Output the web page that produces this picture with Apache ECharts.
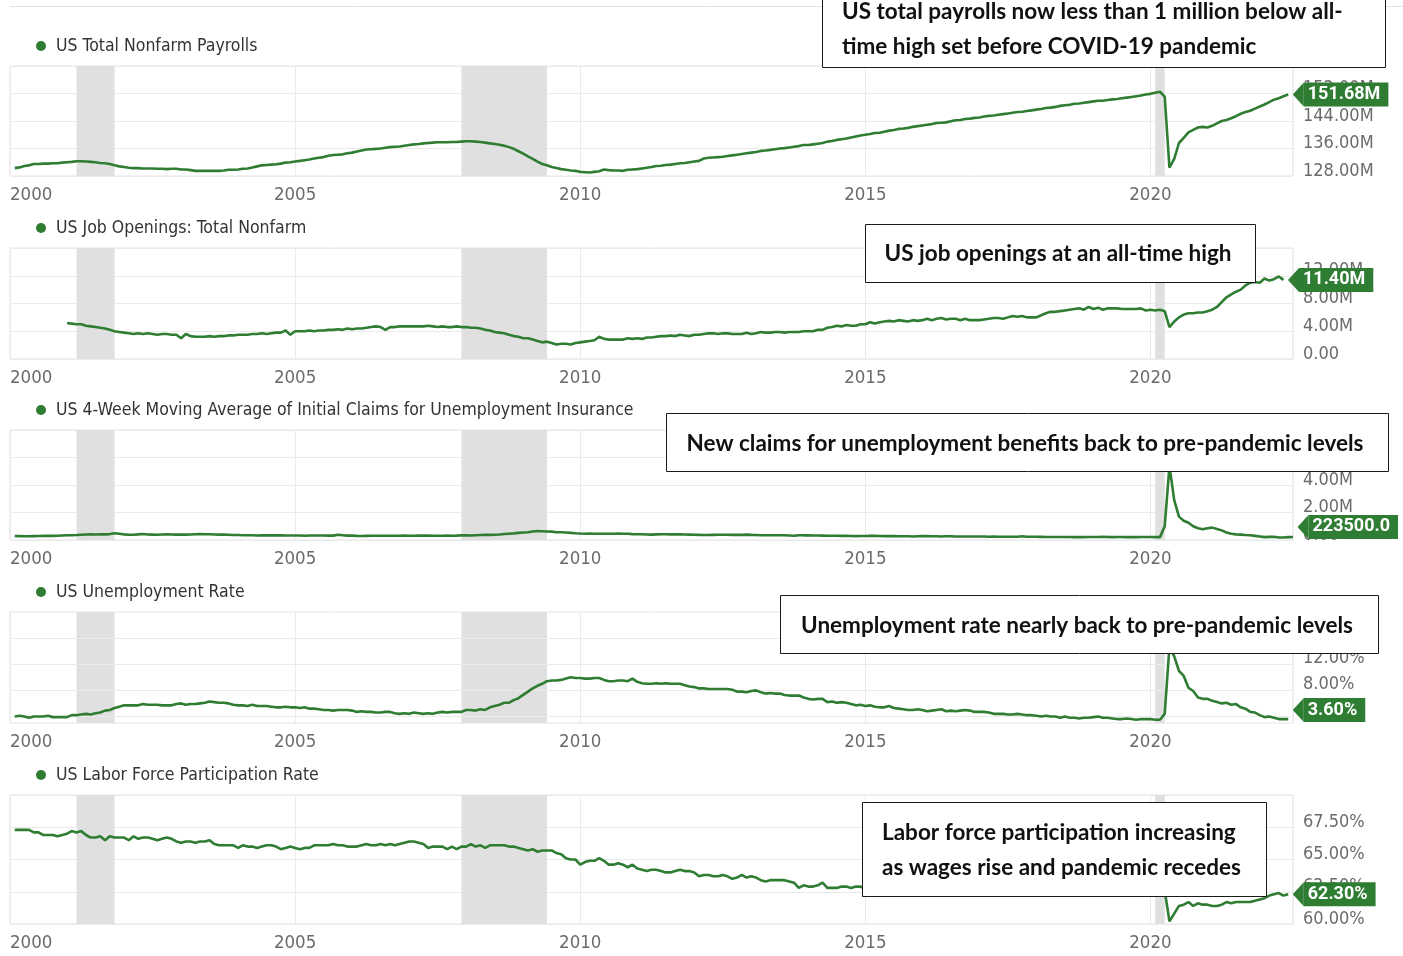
<!DOCTYPE html>
<html>
<head>
<meta charset="utf-8">
<title>US labor market</title>
<script src="https://cdn.jsdelivr.net/npm/echarts@6.0.0/dist/echarts.min.js"></script>
<style>
  html, body { margin: 0; padding: 0; background: #fff; }
  #main { width: 1403px; height: 956px; }
</style>
</head>
<body>
<div id="main"></div>
<script>
// monthly values, one row per year (2000 ->)
var payrolls = [ // millions, Jan 2000 - May 2022
  [130.3,130.5,130.9,131.1,131.5,131.5,131.6,131.6,131.7,131.7,131.9,132.0],
  [132.1,132.3,132.3,132.2,132.1,132.0,131.8,131.7,131.5,131.1,130.8,130.6],
  [130.4,130.3,130.3,130.2,130.2,130.2,130.1,130.1,130.0,130.1,130.1,129.9],
  [129.9,129.7,129.5,129.5,129.5,129.5,129.5,129.5,129.6,129.8,129.8,129.9],
  [130.1,130.2,130.5,130.8,131.1,131.2,131.3,131.4,131.6,131.9,132.0,132.2],
  [132.4,132.6,132.8,133.1,133.3,133.5,133.9,134.1,134.2,134.3,134.6,134.8],
  [135.1,135.4,135.7,135.8,135.9,136.0,136.2,136.4,136.5,136.6,136.8,137.0],
  [137.2,137.3,137.5,137.6,137.7,137.8,137.8,137.8,137.9,137.9,138.0,138.1],
  [138.1,138.0,137.9,137.7,137.5,137.3,137.1,136.8,136.4,135.9,135.2,134.5],
  [133.7,133.0,132.2,131.5,131.1,130.6,130.3,130.0,129.8,129.6,129.5,129.2],
  [129.1,129.0,129.2,129.4,129.9,129.7,129.6,129.6,129.5,129.8,129.9,130.0],
  [130.2,130.4,130.6,130.9,131.0,131.2,131.3,131.5,131.7,131.8,132.0,132.2],
  [132.4,133.1,133.3,133.4,133.5,133.6,133.8,134.0,134.2,134.4,134.6,134.8],
  [135.0,135.3,135.4,135.6,135.8,136.0,136.1,136.3,136.5,136.7,137.0,137.0],
  [137.2,137.4,137.6,138.0,138.2,138.5,138.7,138.9,139.2,139.5,139.8,140.0],
  [140.2,140.5,140.6,140.9,141.2,141.4,141.7,141.8,142.0,142.3,142.5,142.7],
  [142.9,143.1,143.4,143.5,143.6,143.9,144.2,144.3,144.6,144.7,144.9,145.0],
  [145.3,145.5,145.6,145.8,146.0,146.2,146.4,146.6,146.7,146.9,147.1,147.3],
  [147.5,147.8,147.9,148.1,148.4,148.6,148.7,149.0,149.1,149.3,149.5,149.7],
  [149.9,149.9,150.1,150.3,150.4,150.6,150.8,151.0,151.2,151.4,151.7,151.9],
  [152.2,152.5,151.1,130.4,133.0,137.6,139.1,140.7,141.4,142.1,142.3,142.1],
  [142.6,143.3,144.0,144.3,144.8,145.4,146.1,146.6,147.0,147.6,148.2,148.8],
  [149.5,150.2,150.6,151.2,151.68]
];
var jobOpenings = [ // millions, Dec 2000 - Apr 2022
  [5.2],
  [5.1,5.0,5.0,4.8,4.7,4.6,4.5,4.4,4.2,4.0,3.9,3.8],
  [3.7,3.6,3.7,3.6,3.7,3.6,3.5,3.6,3.6,3.5,3.5,3.0],
  [3.6,3.3,3.2,3.2,3.2,3.3,3.2,3.3,3.3,3.4,3.4,3.5],
  [3.5,3.5,3.6,3.6,3.7,3.6,3.7,3.8,3.8,4.1,3.5,4.0],
  [4.0,4.0,4.1,4.0,4.1,4.1,4.2,4.2,4.3,4.2,4.4,4.3],
  [4.4,4.4,4.5,4.6,4.7,4.6,4.2,4.6,4.6,4.7,4.7,4.7],
  [4.7,4.7,4.7,4.8,4.7,4.6,4.7,4.6,4.6,4.7,4.6,4.6],
  [4.5,4.5,4.4,4.2,4.1,3.9,3.8,3.7,3.5,3.3,3.2,3.0],
  [3.0,2.8,2.6,2.4,2.5,2.3,2.1,2.2,2.2,2.1,2.3,2.4],
  [2.5,2.6,2.7,3.2,2.9,2.8,2.8,2.8,2.8,3.0,2.9,3.0],
  [2.9,3.1,3.1,3.2,3.3,3.3,3.4,3.3,3.5,3.4,3.3,3.5],
  [3.5,3.6,3.7,3.7,3.6,3.7,3.7,3.6,3.6,3.6,3.8,3.6],
  [3.7,3.9,3.8,3.8,3.9,3.9,3.8,3.9,3.9,3.9,4.0,4.0],
  [4.0,4.2,4.2,4.5,4.6,4.8,4.7,4.9,4.8,4.8,5.0,5.0],
  [5.3,5.1,5.3,5.4,5.5,5.4,5.6,5.5,5.4,5.6,5.5,5.6],
  [5.8,5.6,5.8,5.9,5.7,5.8,5.8,5.6,5.8,5.6,5.6,5.6],
  [5.7,5.8,5.9,5.9,5.8,6.0,6.2,6.1,6.2,6.0,6.0,6.0],
  [6.3,6.6,6.8,6.8,6.9,7.0,7.1,7.2,7.3,7.1,7.5,7.2],
  [7.4,7.1,7.3,7.3,7.3,7.2,7.2,7.2,7.2,7.3,7.0,7.1],
  [7.0,7.1,6.9,4.6,5.4,6.0,6.4,6.6,6.6,6.7,6.7,6.9],
  [7.1,7.5,8.2,8.9,9.3,9.7,10.0,10.6,11.0,11.1,11.0,11.6],
  [11.3,11.5,11.9,11.4]
];
var claims4wk = [ // millions, Jan 2000 - Jun 2022
  [0.29,0.28,0.27,0.27,0.28,0.29,0.30,0.30,0.30,0.31,0.33,0.34],
  [0.35,0.36,0.38,0.40,0.41,0.40,0.41,0.41,0.43,0.49,0.45,0.41],
  [0.38,0.38,0.41,0.44,0.40,0.39,0.38,0.40,0.41,0.40,0.39,0.39],
  [0.39,0.40,0.42,0.43,0.42,0.42,0.40,0.39,0.39,0.38,0.36,0.36],
  [0.35,0.35,0.34,0.33,0.34,0.34,0.34,0.34,0.34,0.33,0.33,0.33],
  [0.33,0.31,0.33,0.33,0.33,0.33,0.32,0.32,0.38,0.35,0.32,0.32],
  [0.30,0.29,0.30,0.31,0.31,0.31,0.31,0.31,0.31,0.31,0.32,0.31],
  [0.31,0.33,0.32,0.32,0.31,0.31,0.31,0.32,0.31,0.32,0.34,0.34],
  [0.33,0.35,0.36,0.37,0.37,0.38,0.40,0.44,0.46,0.48,0.52,0.55],
  [0.56,0.62,0.65,0.64,0.62,0.61,0.56,0.56,0.54,0.52,0.49,0.47],
  [0.46,0.47,0.45,0.46,0.46,0.46,0.46,0.47,0.45,0.45,0.43,0.42],
  [0.42,0.40,0.39,0.41,0.42,0.42,0.41,0.41,0.41,0.40,0.39,0.38],
  [0.37,0.36,0.36,0.37,0.38,0.38,0.38,0.37,0.37,0.37,0.39,0.37],
  [0.36,0.35,0.35,0.34,0.35,0.35,0.34,0.33,0.31,0.35,0.34,0.34],
  [0.33,0.33,0.32,0.31,0.31,0.31,0.30,0.30,0.29,0.28,0.29,0.29],
  [0.30,0.30,0.29,0.28,0.28,0.28,0.27,0.27,0.27,0.26,0.27,0.28],
  [0.28,0.27,0.27,0.26,0.27,0.27,0.26,0.26,0.25,0.26,0.25,0.26],
  [0.25,0.24,0.25,0.24,0.24,0.24,0.24,0.24,0.27,0.24,0.24,0.24],
  [0.23,0.22,0.22,0.22,0.22,0.22,0.22,0.21,0.21,0.21,0.22,0.22],
  [0.22,0.23,0.22,0.21,0.22,0.22,0.21,0.21,0.21,0.22,0.22,0.22],
  [0.21,0.21,0.99,5.38,2.90,1.70,1.40,1.25,1.00,0.85,0.78,0.85],
  [0.90,0.80,0.70,0.55,0.45,0.41,0.39,0.36,0.34,0.30,0.26,0.21],
  [0.23,0.23,0.18,0.18,0.21,0.2235]
];
var unemployment = [ // percent, Jan 2000 - May 2022
  [4.0,4.1,4.0,3.8,4.0,4.0,4.0,4.1,3.9,3.9,3.9,3.9],
  [4.2,4.2,4.3,4.4,4.3,4.5,4.6,4.9,5.0,5.3,5.5,5.7],
  [5.7,5.7,5.7,5.9,5.8,5.8,5.8,5.7,5.7,5.7,5.9,6.0],
  [5.8,5.9,5.9,6.0,6.1,6.3,6.2,6.1,6.1,6.0,5.8,5.7],
  [5.7,5.6,5.8,5.6,5.6,5.6,5.5,5.4,5.4,5.5,5.4,5.4],
  [5.3,5.4,5.2,5.2,5.1,5.0,5.0,4.9,5.0,5.0,5.0,4.9],
  [4.7,4.8,4.7,4.7,4.6,4.6,4.7,4.7,4.5,4.4,4.5,4.4],
  [4.6,4.5,4.4,4.5,4.4,4.6,4.7,4.6,4.7,4.7,4.7,5.0],
  [5.0,4.9,5.1,5.0,5.4,5.6,5.8,6.1,6.1,6.5,6.8,7.3],
  [7.8,8.3,8.7,9.0,9.4,9.5,9.5,9.6,9.8,10.0,9.9,9.9],
  [9.8,9.8,9.9,9.9,9.6,9.4,9.4,9.5,9.5,9.4,9.8,9.3],
  [9.1,9.0,9.0,9.1,9.0,9.1,9.0,9.0,9.0,8.8,8.6,8.5],
  [8.3,8.3,8.2,8.2,8.2,8.2,8.2,8.1,7.8,7.8,7.7,7.9],
  [8.0,7.7,7.5,7.6,7.5,7.5,7.3,7.2,7.2,7.2,6.9,6.7],
  [6.6,6.7,6.7,6.2,6.3,6.1,6.2,6.1,5.9,5.7,5.8,5.6],
  [5.7,5.5,5.4,5.4,5.6,5.3,5.2,5.1,5.0,5.0,5.1,5.0],
  [4.8,4.9,5.0,5.1,4.8,4.9,4.8,4.9,5.0,4.9,4.7,4.7],
  [4.7,4.6,4.4,4.4,4.4,4.3,4.3,4.4,4.3,4.2,4.2,4.1],
  [4.0,4.1,4.0,4.0,3.8,4.0,3.8,3.8,3.7,3.8,3.8,3.9],
  [4.0,3.8,3.8,3.7,3.6,3.6,3.7,3.6,3.5,3.6,3.6,3.6],
  [3.5,3.5,4.4,14.7,13.2,11.0,10.2,8.4,7.9,6.9,6.7,6.7],
  [6.4,6.2,6.0,6.1,5.8,5.9,5.4,5.2,4.7,4.6,4.2,3.9],
  [4.0,3.8,3.6,3.6,3.6]
];
var participation = [ // percent, Jan 2000 - May 2022
  [67.3,67.3,67.3,67.3,67.1,67.1,66.9,66.9,66.9,66.8,66.9,67.0],
  [67.2,67.1,67.2,66.9,66.7,66.7,66.8,66.5,66.8,66.7,66.7,66.7],
  [66.5,66.8,66.6,66.7,66.7,66.6,66.5,66.6,66.7,66.6,66.4,66.3],
  [66.4,66.4,66.3,66.4,66.4,66.5,66.2,66.1,66.1,66.1,66.1,65.9],
  [66.1,66.0,66.0,65.9,66.0,66.1,66.1,66.0,65.8,65.9,66.0,65.9],
  [65.8,65.9,65.9,66.1,66.1,66.1,66.1,66.2,66.1,66.1,66.0,66.0],
  [66.0,66.1,66.2,66.1,66.1,66.2,66.1,66.2,66.1,66.2,66.3,66.4],
  [66.4,66.3,66.2,65.9,66.0,66.0,66.0,65.8,66.0,65.8,66.0,66.0],
  [66.2,66.0,66.1,65.9,66.1,66.1,66.1,66.1,66.0,66.0,65.9,65.8],
  [65.7,65.8,65.6,65.7,65.7,65.7,65.5,65.4,65.1,65.0,65.0,64.6],
  [64.8,64.9,64.9,65.1,64.9,64.6,64.6,64.7,64.6,64.4,64.6,64.3],
  [64.2,64.1,64.2,64.2,64.1,64.0,64.0,64.1,64.2,64.1,64.1,64.0],
  [63.7,63.8,63.8,63.7,63.7,63.8,63.7,63.5,63.6,63.8,63.6,63.7],
  [63.6,63.4,63.3,63.4,63.4,63.4,63.4,63.3,63.2,62.8,63.0,62.9],
  [62.9,63.0,63.2,62.8,62.8,62.8,62.9,62.9,62.8,62.9,62.9,62.7],
  [62.9,62.7,62.7,62.7,62.8,62.6,62.6,62.6,62.4,62.5,62.5,62.7],
  [62.7,62.8,63.0,62.8,62.7,62.8,62.8,62.8,62.9,62.8,62.7,62.7],
  [62.9,62.9,63.0,62.9,62.8,62.8,62.9,62.8,63.1,62.7,62.8,62.7],
  [62.8,63.1,63.0,62.9,62.9,63.0,62.9,62.7,62.8,62.9,62.9,63.0],
  [63.1,63.1,63.0,62.9,62.9,63.0,63.0,63.1,63.1,63.2,63.2,63.3],
  [63.4,63.3,62.6,60.2,60.8,61.4,61.5,61.7,61.4,61.6,61.5,61.5],
  [61.4,61.4,61.5,61.7,61.6,61.7,61.7,61.7,61.7,61.8,61.9,62.0],
  [62.2,62.3,62.4,62.2,62.3]
];

var seriesNames = [
  'US Total Nonfarm Payrolls',
  'US Job Openings: Total Nonfarm',
  'US 4-Week Moving Average of Initial Claims for Unemployment Insurance',
  'US Unemployment Rate',
  'US Labor Force Participation Rate'
];
// recessions (decimal years)
var recessions = [[2001.167, 2001.833], [2007.917, 2009.417], [2020.083, 2020.25]];
var unempTicks = [4, 8, 12, 16];

var notes = [
  { x: 822, y: -6, w: 563, h: 73, lines: ['US total payrolls now less than 1 million below all-', 'time high set before COVID-19 pandemic'], tx: 842, ty: 12, center: false },
  { x: 865, y: 224, w: 390, h: 58, lines: ['US job openings at an all-time high'], tx: 1058, ty: 254, center: true },
  { x: 666, y: 413, w: 722, h: 58, lines: ['New claims for unemployment benefits back to pre-pandemic levels'], tx: 1025, ty: 444, center: true },
  { x: 780, y: 595, w: 598, h: 58, lines: ['Unemployment rate nearly back to pre-pandemic levels'], tx: 1077, ty: 626, center: true },
  { x: 862, y: 802, w: 404, h: 94, lines: ['Labor force participation increasing', 'as wages rise and pandemic recedes'], tx: 882, ty: 833, center: false }
];

var GREEN = '#2e7d32';
var AXIS_FONT = '"Liberation Sans Narrow", "DejaVu Sans Condensed", Roboto, sans-serif';
var NOTE_FONT = 'Lato, "Open Sans", sans-serif';

// monthly values plotted at month end
function toPoints(rows, year, month) {
  var out = [];
  rows.forEach(function (row) {
    row.forEach(function (v) {
      out.push([year + month / 12, v]);
      month++;
      if (month > 12) { month = 1; year++; }
    });
  });
  return out;
}

var panels = [
  { data: toPoints(payrolls, 2000, 1), min: 128, max: 160, interval: 8,
    fmt: function (v) { return v.toFixed(2) + 'M'; }, tag: function (v) { return v.toFixed(2) + 'M'; }, dy: 0 },
  { data: toPoints(jobOpenings, 2000, 12), min: 0, max: 16, interval: 4,
    fmt: function (v) { return v === 0 ? '0.00' : v.toFixed(2) + 'M'; }, tag: function (v) { return v.toFixed(2) + 'M'; }, dy: 0 },
  { data: toPoints(claims4wk, 2000, 1), min: 0, max: 8, interval: 2,
    fmt: function (v) { return v === 0 ? '0.00' : v.toFixed(2) + 'M'; }, tag: function (v) { return (v * 1e6).toFixed(1); }, dy: -10 },
  { data: toPoints(unemployment, 2000, 1), min: 3, max: 20, interval: null,
    fmt: function (v) { return v.toFixed(2) + '%'; }, tag: function (v) { return v.toFixed(2) + '%'; }, dy: -9 },
  { data: toPoints(participation, 2000, 1), min: 60, max: 70, interval: 2.5,
    fmt: function (v) { return v.toFixed(2) + '%'; }, tag: function (v) { return v.toFixed(2) + '%'; }, dy: 0 }
];

var gridTops = [66, 248, 430, 612, 795];
var gridHeights = [110, 111, 110, 111, 129];
var legendTops = [32, 214, 396, 578, 761];

var grids = [], xAxes = [], yAxes = [], series = [], legends = [];

panels.forEach(function (p, i) {
  grids.push({
    left: 10, right: 110, top: gridTops[i], height: gridHeights[i],
    show: true, borderColor: '#e4e4e4', borderWidth: 1, backgroundColor: '#fff'
  });
  xAxes.push({
    type: 'value', gridIndex: i, min: 2000, max: 2022.5, interval: 5,
    axisLine: { show: false }, axisTick: { show: false },
    splitLine: { show: true, lineStyle: { color: '#ebebeb' } },
    axisLabel: {
      color: '#6b6b6b', fontSize: 18.5, fontFamily: AXIS_FONT, margin: 10,
      alignMinLabel: 'left', showMaxLabel: false,
      formatter: function (v) { return v % 5 === 0 ? String(v) : ''; }
    }
  });
  var y = {
    type: 'value', gridIndex: i, position: 'right', min: p.min, max: p.max,
    axisLine: { show: false }, axisTick: { show: false },
    splitLine: { show: true, lineStyle: { color: '#ebebeb' } },
    axisLabel: {
      color: '#6b6b6b', fontSize: 18, fontFamily: AXIS_FONT, margin: 10,
      verticalAlign: 'bottom', lineHeight: 10,
      showMaxLabel: false, formatter: p.fmt
    }
  };
  if (p.interval) {
    y.interval = p.interval;
  } else {
    y.splitLine = { show: false };
    y.axisLabel = { show: false };
  }
  yAxes.push(y);

  var last = p.data[p.data.length - 1];
  var s = {
    name: seriesNames[i], type: 'line', xAxisIndex: i, yAxisIndex: i,
    data: p.data, showSymbol: false, z: 3,
    lineStyle: { color: GREEN, width: 2.6 }, itemStyle: { color: GREEN },
    markArea: {
      silent: true, z: 1, itemStyle: { color: '#e0e0e0' },
      data: recessions.map(function (r) { return [{ xAxis: r[0] }, { xAxis: r[1] }]; })
    },
    markPoint: {
      silent: true, animation: false,
      symbol: 'path://M0,12 L11,0 L11,24 Z', symbolSize: [11, 24], symbolKeepAspect: false,
      symbolOffset: [10, p.dy],
      itemStyle: { color: GREEN },
      label: {
        show: true, position: 'right', distance: 0,
        backgroundColor: GREEN, color: '#fff', fontWeight: 'bold', fontSize: 18,
        fontFamily: 'Roboto, sans-serif', padding: [3, 8, 2, 4], lineHeight: 19,
        formatter: function () { return p.tag(last[1]); }
      },
      data: [{ coord: last }]
    }
  };
  if (!p.interval) {
    // unemployment axis starts at 3, so its 4-step gridlines are drawn as marker lines
    s.markLine = {
      silent: true, symbol: 'none', animation: false, z: 1,
      lineStyle: { color: '#ebebeb', type: 'solid', width: 1 },
      label: {
        position: 'end', distance: 10, color: '#6b6b6b', fontSize: 18, fontFamily: AXIS_FONT,
        offset: [0, -6],
        formatter: function (q) { return p.fmt(q.value); }
      },
      data: unempTicks.map(function (v) { return { yAxis: v }; })
    };
  }
  series.push(s);

  legends.push({
    data: [seriesNames[i]], left: 31, top: legendTops[i], icon: 'circle',
    itemWidth: 10, itemHeight: 10, selectedMode: false,
    textStyle: { color: '#333', fontSize: 17.5, fontFamily: AXIS_FONT, padding: [0, 0, 0, 5] }
  });
});

// annotation boxes and the thin top rule
var graphics = [{
  type: 'line', z: 50, shape: { x1: 10, y1: 6.5, x2: 1403, y2: 6.5 },
  style: { stroke: '#e4e4e4', lineWidth: 1 }
}];
notes.forEach(function (n) {
  graphics.push({
    type: 'rect', z: 100, shape: { x: n.x + 0.5, y: n.y + 0.5, width: n.w, height: n.h },
    style: { fill: '#fff', stroke: '#1a1a1a', lineWidth: 1 }
  });
  n.lines.forEach(function (t, k) {
    graphics.push({
      type: 'text', z: 101, x: n.tx, y: n.ty + k * 35,
      style: {
        text: t, fill: '#111', font: 'bold 22.5px ' + NOTE_FONT,
        align: n.center ? 'center' : 'left', verticalAlign: 'middle'
      }
    });
  });
});

var chart = echarts.init(document.getElementById('main'));
chart.setOption({
  animation: false,
  backgroundColor: '#fff',
  legend: legends,
  grid: grids,
  xAxis: xAxes,
  yAxis: yAxes,
  series: series,
  graphic: graphics
});
</script>
</body>
</html>
